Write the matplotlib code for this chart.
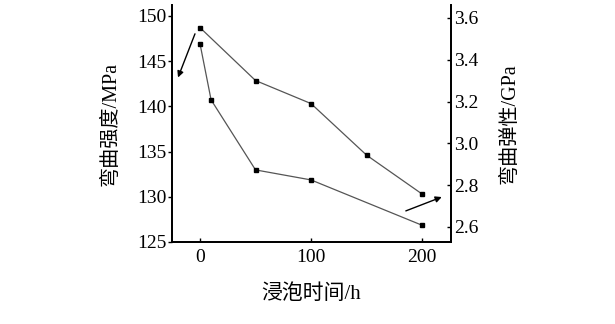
import matplotlib.pyplot as plt

plt.rcParams['font.family'] = ['Liberation Serif', 'Noto Sans CJK SC']

# 浸泡时间 (h)
t_strength = [0, 50, 100, 150, 200]
strength = [148.7, 142.85, 140.3, 134.6, 130.3]   # 弯曲强度 MPa
t_modulus = [0, 10, 50, 100, 200]
modulus = [3.477, 3.208, 2.873, 2.825, 2.608]      # 弯曲弹性 GPa

fig = plt.figure(figsize=(6.15, 3.24), dpi=100)
ax = fig.add_axes([172/615, 1 - 242/324, (451-172)/615, (242-5)/324])
ax2 = ax.twinx()

ax.plot(t_strength, strength, color='#555555', lw=0.9, marker='s', ms=3.5,
        mfc='black', mec='black')
ax2.plot(t_modulus, modulus, color='#555555', lw=0.9, marker='s', ms=3.5,
         mfc='black', mec='black', markevery=[0, 2, 3, 4])
ax2.plot(t_modulus[1], modulus[1], 's', ms=2.5, color='black')

ax.set_xlim(-25.2, 226)
ax.set_ylim(125, 151.2)
ax2.set_ylim(2.528, 3.662)
ax.set_xticks([0, 100, 200])
ax.set_yticks([125, 130, 135, 140, 145, 150])
ax2.set_yticks([2.6, 2.8, 3.0, 3.2, 3.4, 3.6])
ax2.set_yticklabels(['2.6', '2.8', '3.0', '3.2', '3.4', '3.6'])

for a in (ax, ax2):
    a.spines['top'].set_visible(False)
    for s in a.spines.values():
        s.set_linewidth(1.3)
ax.tick_params(axis='y', direction='out', length=3, width=1, labelsize=14, pad=1)
ax.tick_params(axis='x', direction='in', length=3, width=1, labelsize=14, pad=5)
ax2.tick_params(axis='y', direction='in', length=3, width=1, labelsize=14, pad=2)

ax.set_ylabel('弯曲强度/MPa', fontsize=14.5, labelpad=12)
ax2.set_ylabel('弯曲弹性/GPa', fontsize=14.5, labelpad=16)
ax.set_xlabel('浸泡时间/h', fontsize=15, labelpad=13)

ax.annotate('', xy=(-20.7, 142.9), xytext=(-3.6, 148.3),
            arrowprops=dict(arrowstyle='-|>', color='black', lw=1, mutation_scale=9))
ax2.annotate('', xy=(220, 2.748), xytext=(183, 2.672),
             arrowprops=dict(arrowstyle='-|>', color='black', lw=1, mutation_scale=9))

fig.savefig('out.png', dpi=100)
